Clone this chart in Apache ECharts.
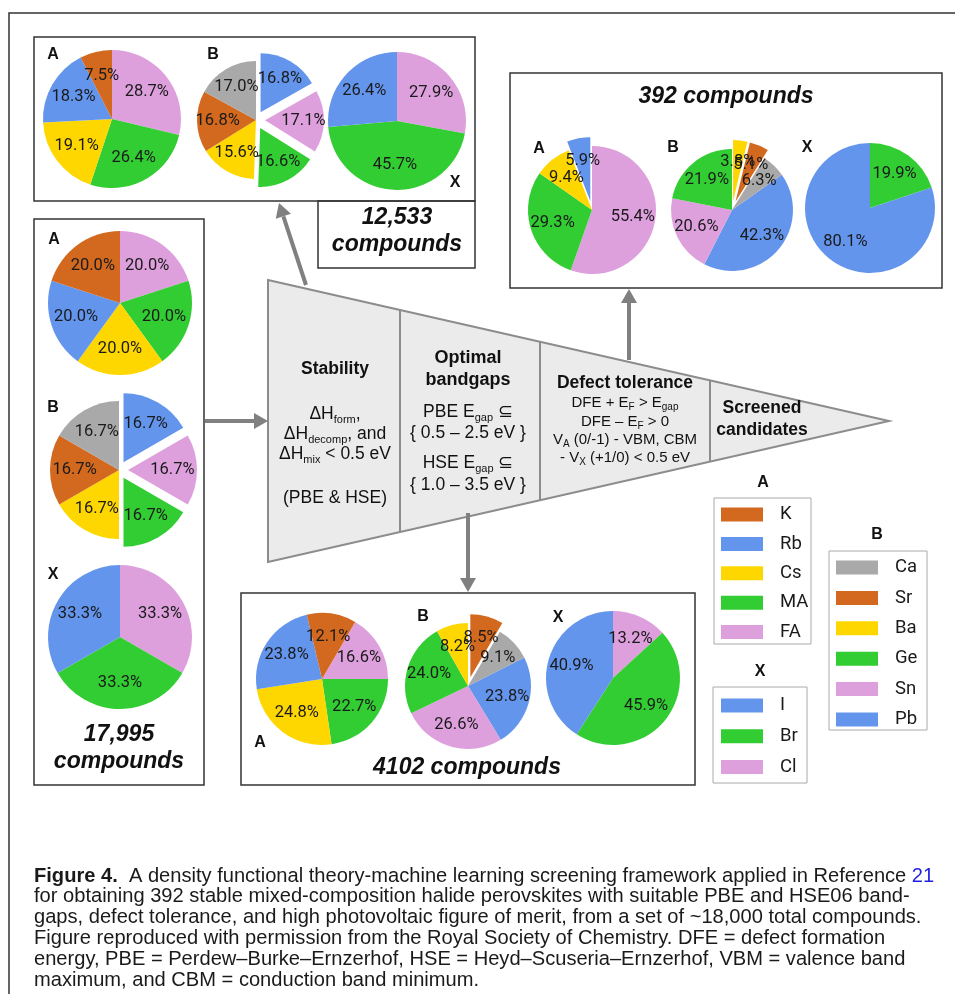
<!DOCTYPE html>
<html>
<head>
<meta charset="utf-8">
<title>Screening framework</title>
<script src="https://cdn.jsdelivr.net/npm/echarts@6/dist/echarts.min.js"></script>
<style>
  html, body { margin: 0; padding: 0; background: #fff; }
  #chart { width: 955px; height: 994px; }
</style>
</head>
<body>
<div id="chart"></div>
<script>
// site categories, in the clockwise order the slices are drawn
const aNames = ['FA', 'MA', 'Cs', 'Rb', 'K'];
const bNames = ['Pb', 'Sn', 'Ge', 'Ba', 'Sr', 'Ca'];
const xNames = ['Cl', 'Br', 'I'];
// legend order as printed
const aLegend = ['K', 'Rb', 'Cs', 'MA', 'FA'];
const bLegend = ['Ca', 'Sr', 'Ba', 'Ge', 'Sn', 'Pb'];
const xLegend = ['I', 'Br', 'Cl'];

// 17,995 compounds (full set)
const allA = [20.0, 20.0, 20.0, 20.0, 20.0];
const allB = [16.7, 16.7, 16.7, 16.7, 16.7, 16.7];
const allX = [33.3, 33.3, 33.3];
// 12,533 compounds (stable)
const stabA = [28.7, 26.4, 19.1, 18.3, 7.5];
const stabB = [16.8, 17.1, 16.6, 15.6, 16.8, 17.0];
const stabX = [27.9, 45.7, 26.4];
// 4102 compounds (optimal bandgaps)
const gapA = [16.6, 22.7, 24.8, 23.8, 12.1];
const gapB = [23.8, 26.6, 24.0, 8.2, 8.5, 9.1];
const gapX = [13.2, 45.9, 40.9];
// 392 compounds (defect tolerant)
const finA = [55.4, 29.3, 9.4, 5.9, 0];
const finB = [42.3, 20.6, 21.9, 3.8, 5.1, 6.3];
const finX = [0, 19.9, 80.1];

const colors = {
  FA: '#DDA0DD', MA: '#32CD32', Cs: '#FFD700', Rb: '#6495ED', K: '#D2691E',
  Pb: '#6495ED', Sn: '#DDA0DD', Ge: '#32CD32', Ba: '#FFD700', Sr: '#D2691E', Ca: '#A9A9A9',
  Cl: '#DDA0DD', Br: '#32CD32', I: '#6495ED'
};

const NARROW = "Roboto, 'Liberation Sans', sans-serif";
const SANS = "'Liberation Sans', Arial, Helvetica, sans-serif";

// one pie = coloured slices + a transparent, slightly larger copy that carries the labels on top
const basePies = [];
const labelPies = [];
function pie(names, values, center, radius, startAngle, pulled) {
  const items = (labels) => {
    const data = [];
    names.forEach((n, i) => {
      if (values[i] > 0) {
        data.push({
          name: n, value: values[i],
          selected: (pulled || []).indexOf(n) >= 0,
          itemStyle: { color: labels ? 'rgba(0,0,0,0)' : colors[n] }
        });
      }
    });
    return data;
  };
  const common = {
    type: 'pie', center: center, startAngle: startAngle, clockwise: true,
    selectedMode: 'multiple', selectedOffset: 9, avoidLabelOverlap: false,
    animation: false, silent: true, labelLine: { show: false },
    emphasis: { disabled: true }
  };
  basePies.push(Object.assign({}, common, {
    radius: radius, z: 2, label: { show: false },
    itemStyle: { borderWidth: 0 }, data: items(false)
  }));
  labelPies.push(Object.assign({}, common, {
    radius: radius * 1.2, z: 4,
    labelLayout: { hideOverlap: false },
    label: {
      show: true, position: 'inside',
      formatter: p => p.value.toFixed(1) + '%',
      fontFamily: NARROW, fontSize: 16.5, color: '#1a1a1a'
    },
    itemStyle: { borderWidth: 0 }, data: items(true)
  }));
}

// graphic helpers
function rect(x, y, w, h, stroke, lw) {
  return { type: 'rect', shape: { x: x, y: y, width: w, height: h },
    style: { fill: 'none', stroke: stroke || '#333', lineWidth: lw || 1.5 }, z: 1 };
}
function txt(x, y, text, font, extra) {
  return { type: 'text', x: x, y: y, z: 5,
    style: Object.assign({ text: text, font: font, fill: '#111', align: 'center', verticalAlign: 'middle' }, extra || {}) };
}
function arrow(x1, y1, x2, y2) {
  const dx = x2 - x1, dy = y2 - y1, len = Math.sqrt(dx * dx + dy * dy);
  const ux = dx / len, uy = dy / len, hl = 14, hw = 8;
  const bx = x2 - ux * hl, by = y2 - uy * hl;
  return [
    { type: 'line', shape: { x1: x1, y1: y1, x2: bx, y2: by }, style: { stroke: '#808080', lineWidth: 4 }, z: 3 },
    { type: 'polygon', shape: { points: [[x2, y2], [bx - uy * hw, by + ux * hw], [bx + uy * hw, by - ux * hw]] },
      style: { fill: '#808080' }, z: 3 }
  ];
}

const subRich = {
  n: { fontFamily: SANS, fontSize: 17.5, lineHeight: 22, fill: '#111' },
  s: { fontFamily: SANS, fontSize: 11, lineHeight: 12, verticalAlign: 'bottom', fill: '#111' }
};
const smallRich = {
  m: { fontFamily: SANS, fontSize: 15, lineHeight: 19, fill: '#111' },
  t: { fontFamily: SANS, fontSize: 10, lineHeight: 10, verticalAlign: 'bottom', fill: '#111' }
};

// funnel geometry
const fx0 = 268, fTop = 280, fBot = 562, fTipX = 889, fMid = 421;
const slope = (fMid - fTop) / (fTipX - fx0);
function divider(x) {
  return { type: 'line', shape: { x1: x, y1: fTop + (x - fx0) * slope, x2: x, y2: fBot - (x - fx0) * slope },
    style: { stroke: '#8c8c8c', lineWidth: 2 }, z: 2 };
}

const bold = 'bold 16px ' + SANS;
const big = 'italic bold 23px ' + SANS;
const head = 'bold 17.5px ' + SANS;
const body = '17.5px ' + SANS;

const graphics = [
  // outer frame
  { type: 'polyline', shape: { points: [[9, 994], [9, 13], [955, 13]] }, style: { stroke: '#333', lineWidth: 1.5 }, z: 1 },
  rect(34, 37, 441, 164),
  rect(318, 201, 157, 67),
  rect(34, 219, 170, 566),
  rect(510, 73, 432, 215),
  rect(241, 593, 454, 192),
  // funnel
  { type: 'polygon', shape: { points: [[fx0, fTop], [fTipX, fMid], [fx0, fBot]] },
    style: { fill: '#EBEBEB', stroke: '#8c8c8c', lineWidth: 2 }, z: 2 },
  divider(400), divider(540), divider(710),
  ...arrow(205, 421, 268, 421),
  ...arrow(306, 285, 279, 203),
  ...arrow(629, 360, 629, 289),
  ...arrow(468, 513, 468, 592),
  // pie letters
  txt(53, 55, 'A', bold), txt(213, 55, 'B', bold), txt(455, 183, 'X', bold),
  txt(54, 240, 'A', bold), txt(53, 408, 'B', bold), txt(53, 575, 'X', bold),
  txt(539, 149, 'A', bold), txt(673, 148, 'B', bold), txt(807, 148, 'X', bold),
  txt(260, 743, 'A', bold), txt(423, 617, 'B', bold), txt(558, 618, 'X', bold),
  // compound counts
  txt(397, 218, '12,533', big), txt(397, 245, 'compounds', big),
  txt(119, 735, '17,995', big), txt(119, 762, 'compounds', big),
  txt(726, 97, '392 compounds', big),
  txt(467, 768, '4102 compounds', big),
  // funnel stages
  txt(335, 369, 'Stability', head),
  txt(335, 414, '{n|ΔH}{s|form}{n|,}', body, { rich: subRich }),
  txt(335, 434, '{n|ΔH}{s|decomp}{n|, and}', body, { rich: subRich }),
  txt(335, 454, '{n|ΔH}{s|mix}{n| < 0.5 eV}', body, { rich: subRich }),
  txt(335, 498, '(PBE & HSE)', body),
  txt(468, 358, 'Optimal', 'bold 18px ' + SANS),
  txt(468, 380, 'bandgaps', 'bold 18px ' + SANS),
  txt(468, 412, '{n|PBE E}{s|gap}{n| ⊆}', body, { rich: subRich }),
  txt(468, 433, '{ 0.5 – 2.5 eV }', body),
  txt(468, 463, '{n|HSE E}{s|gap}{n| ⊆}', body, { rich: subRich }),
  txt(468, 485, '{ 1.0 – 3.5 eV }', body),
  txt(625, 383, 'Defect tolerance', head),
  txt(625, 403, '{m|DFE + E}{t|F}{m| > E}{t|gap}', '15px ' + SANS, { rich: smallRich }),
  txt(625, 422, '{m|DFE – E}{t|F}{m| > 0}', '15px ' + SANS, { rich: smallRich }),
  txt(625, 440, '{m|V}{t|A}{m| (0/-1) - VBM, CBM}', '15px ' + SANS, { rich: smallRich }),
  txt(625, 458, '{m|- V}{t|X}{m| (+1/0) < 0.5 eV}', '15px ' + SANS, { rich: smallRich }),
  txt(762, 408, 'Screened', head),
  txt(762, 430, 'candidates', head),
  // legends frames and titles
  rect(714, 498, 97, 146, '#aaa', 1),
  rect(829, 551, 98, 179, '#aaa', 1),
  rect(713, 687, 94, 96, '#aaa', 1),
  txt(763, 483, 'A', bold), txt(877, 535, 'B', bold), txt(760, 672, 'X', bold)
];

// caption
const capSize = 20.1;
const capRich = {
  b: { fontFamily: SANS, fontSize: capSize, fontWeight: 'bold', fill: '#1a1a1a' },
  l: { fontFamily: SANS, fontSize: capSize, fill: '#1f1fe0' }
};
const captionLines = [
  '{b|Figure 4.}  A density functional theory-machine learning screening framework applied in Reference {l|21}',
  'for obtaining 392 stable mixed-composition halide perovskites with suitable PBE and HSE06 band-',
  'gaps, defect tolerance, and high photovoltaic figure of merit, from a set of ~18,000 total compounds.',
  'Figure reproduced with permission from the Royal Society of Chemistry. DFE = defect formation',
  'energy, PBE = Perdew–Burke–Ernzerhof, HSE = Heyd–Scuseria–Ernzerhof, VBM = valence band',
  'maximum, and CBM = conduction band minimum.'
];
captionLines.forEach((line, i) => {
  graphics.push(txt(34, 876 + i * 20.8, line, capSize + 'px ' + SANS, { align: 'left', fill: '#1a1a1a', rich: capRich }));
});

function legend(names, left, top, gap) {
  return {
    data: names, left: left, top: top, orient: 'vertical',
    itemWidth: 42, itemHeight: 14, itemGap: gap, icon: 'rect',
    selectedMode: false, padding: 0,
    itemStyle: { borderWidth: 0 },
    textStyle: { fontFamily: NARROW, fontSize: 18.5, color: '#1a1a1a', padding: [0, 0, 0, 12] }
  };
}

pie(aNames, allA, [120, 303], 72, 90);
pie(bNames, allB, [119, 470], 69, 90, ['Pb', 'Sn', 'Ge']);
pie(xNames, allX, [120, 637], 72, 90);
pie(aNames, stabA, [112, 119], 69, 90);
pie(bNames, stabB, [256, 120], 59, 90, ['Pb', 'Sn', 'Ge']);
pie(xNames, stabX, [397, 121], 69, 90);
pie(aNames, gapA, [322, 679], 66, 59.8);
pie(bNames, gapB, [468, 686], 63, 26.8, ['Sr']);
pie(xNames, gapX, [613, 678], 67, 90);
pie(aNames, finA, [592, 210], 64, 90, ['Rb']);
pie(bNames, finB, [732, 210], 61, 35.3, ['Ba', 'Sr']);
pie(xNames, finX, [870, 208], 65, 90);

const chart = echarts.init(document.getElementById('chart'), null, { renderer: 'canvas' });
chart.setOption({
  backgroundColor: '#fff',
  animation: false,
  legend: [
    legend(aLegend, 721, 505, 10.4),
    legend(bLegend, 836, 558, 11.4),
    legend(xLegend, 721, 696, 11.7)
  ],
  graphic: { elements: graphics },
  series: basePies.concat(labelPies)
});
</script>
</body>
</html>
